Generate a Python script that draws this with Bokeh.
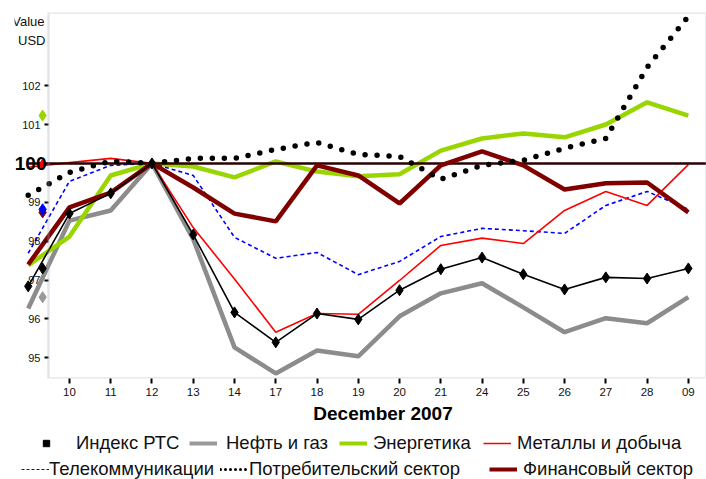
from bokeh.plotting import figure
from bokeh.layouts import column
from bokeh.models import Range1d, FixedTicker, Legend, LegendItem, BoxAnnotation, Label
from bokeh.embed import file_html
from bokeh.resources import INLINE

days = ["07", "10", "11", "12", "13", "14", "17", "18", "19", "20", "21", "24", "25", "26", "27", "28", "09"]
rts = [96.84, 98.71, 99.23, 100.0, 98.17, 96.17, 95.40, 96.14, 95.99, 96.74, 97.28, 97.58, 97.15, 96.76, 97.07, 97.04, 97.30]
oil = [96.27, 98.53, 98.79, 100.0, 98.05, 95.27, 94.60, 95.19, 95.04, 96.07, 96.66, 96.92, 96.30, 95.66, 96.02, 95.89, 96.56]
energy = [97.38, 98.12, 99.69, 100.0, 99.92, 99.64, 100.05, 99.79, 99.67, 99.72, 100.33, 100.64, 100.77, 100.67, 101.0, 101.57, 101.23]
metals = [99.90, 100.02, 100.13, 100.0, 98.35, 97.03, 95.66, 96.14, 96.12, 96.99, 97.89, 98.08, 97.94, 98.79, 99.28, 98.92, 99.97]
telecom = [97.69, 99.54, 99.95, 100.0, 99.69, 98.10, 97.56, 97.71, 97.14, 97.48, 98.12, 98.33, 98.27, 98.20, 98.92, 99.28, 98.82]
consumer = [99.18, 99.77, 100.06, 100.0, 100.13, 100.13, 100.36, 100.54, 100.23, 100.18, 99.59, 99.95, 100.08, 100.39, 100.64, 102.47, 103.78]
finance = [97.40, 98.87, 99.25, 100.0, 99.38, 98.71, 98.51, 99.95, 99.69, 98.97, 99.95, 100.31, 99.95, 99.33, 99.49, 99.51, 98.74]
base = 100
y_ticks = [95, 96, 97, 98, 99, 100, 101, 102]
x_title = "December 2007"
names = ["Индекс РТС", "Нефть и газ", "Энергетика", "Металлы и добыча",
         "Телекоммуникации", "Потребительский сектор", "Финансовый сектор"]

FONT = "Liberation Sans"
BORDER = "#a4a4b8"
GREEN = "#99d600"
DARKRED = "#800000"
GREY = "#8c8c8c"
NAN = float("nan")

xs = list(range(len(days)))
axis_x = 0.492

p = figure(width=706, height=404, output_backend="svg", toolbar_location=None,
           x_range=Range1d(-0.332, 16.44), y_range=Range1d(94.47, 103.88),
           min_border_left=14, min_border_right=0, min_border_top=12, min_border_bottom=26)
p.outline_line_color = None
p.grid.visible = False
p.background_fill_color = "white"
p.border_fill_color = "white"

# axes
p.yaxis.fixed_location = axis_x
p.yaxis.ticker = FixedTicker(ticks=y_ticks)
p.yaxis.major_label_overrides = {base: ""}
p.yaxis.axis_line_color = None
p.yaxis.major_tick_line_color = "black"
p.yaxis.major_tick_line_width = 2
p.yaxis.major_tick_out = 4
p.yaxis.major_tick_in = 0
p.yaxis.minor_tick_line_color = None
p.yaxis.major_label_text_font = FONT
p.yaxis.major_label_text_font_size = "11px"
p.yaxis.major_label_text_color = "#111111"
p.yaxis.major_label_standoff = 4

p.xaxis.ticker = FixedTicker(ticks=xs[1:])
p.xaxis.major_label_overrides = {i: days[i] for i in xs[1:]}
p.xaxis.axis_line_color = None
p.xaxis.major_tick_line_color = "black"
p.xaxis.major_tick_line_width = 2
p.xaxis.major_tick_out = 5
p.xaxis.major_tick_in = 0
p.xaxis.minor_tick_line_color = None
p.xaxis.major_label_text_font = FONT
p.xaxis.major_label_text_font_size = "11.5px"
p.xaxis.major_label_text_color = "#111111"
p.xaxis.major_label_standoff = 4

# frame border
p.add_layout(BoxAnnotation(left=axis_x, fill_alpha=0, line_color=BORDER, line_width=2.5))

# series
p.line(xs, oil, line_color=GREY, line_width=4.5)
p.line(xs, energy, line_color=GREEN, line_width=4.5)
p.line(xs, telecom, line_color="#0000ff", line_width=1.6, line_dash="4 3")
p.line(xs, metals, line_color="#ff0000", line_width=1.6)
p.line([xs[0], len(days)], [base, base], line_color="#2a0000", line_width=2.5)
p.line(xs, finance, line_color=DARKRED, line_width=4.5)
p.line(xs, rts, line_color="black", line_width=1.6)
p.scatter(xs, rts, marker="diamond", size=11, color="black")
p.line(xs, consumer, line_color="black", line_width=5.5, line_dash="0 12", line_cap="round")

# last-value markers on the value axis
mark_x = 0.35
for series, col in [(oil, "#999999"), (rts, "black"), (finance, DARKRED), (telecom, "#0000ff"),
                    (metals, "#ff0000"), (energy, GREEN)]:
    p.scatter([mark_x], [series[-1]], marker="diamond", size=11, color=col)

# axis texts
p.add_layout(Label(x=axis_x, y=base, text=str(base), x_offset=-2, text_align="right",
                   text_baseline="middle", text_font=FONT, text_font_style="bold",
                   text_font_size="19px", text_color="black"))
p.add_layout(Label(x=axis_x, y=103.65, text="Value", x_offset=-4, text_align="right",
                   text_baseline="middle", text_font=FONT, text_font_size="13px", text_color="#111111"))
p.add_layout(Label(x=axis_x, y=103.16, text="USD", x_offset=-3, text_align="right",
                   text_baseline="middle", text_font=FONT, text_font_size="13px", text_color="#111111"))

# axis title + legend figure
q = figure(width=706, height=75, output_backend="svg", toolbar_location=None,
           x_axis_location=None, y_axis_location=None,
           x_range=Range1d(0, 706), y_range=Range1d(0, 75),
           min_border_left=0, min_border_right=0, min_border_top=0, min_border_bottom=0)
q.grid.visible = False
q.outline_line_color = None
q.background_fill_color = "white"
q.border_fill_color = "white"

q.add_layout(Label(x=376, y=66, text=x_title, text_align="center", text_baseline="middle",
                   text_font=FONT, text_font_style="bold", text_font_size="19px", text_color="black"))

g_rts = q.scatter([NAN], [NAN], marker="square", size=7, color="black")
g_oil = q.line([NAN, NAN], [NAN, NAN], line_color="#999999", line_width=4)
g_en = q.line([NAN, NAN], [NAN, NAN], line_color=GREEN, line_width=4)
g_met = q.line([NAN, NAN], [NAN, NAN], line_color="#ff0000", line_width=1.5)
g_tel = q.line([NAN, NAN], [NAN, NAN], line_color="#0000ff", line_width=1.2, line_dash="3 2")
g_con = q.line([NAN, NAN], [NAN, NAN], line_color="black", line_width=3, line_dash="0 5", line_cap="round")
g_fin = q.line([NAN, NAN], [NAN, NAN], line_color=DARKRED, line_width=4)

# (label, glyph renderer, glyph left x, bottom y, label standoff)
legend_spec = [
    (names[0], g_rts, 18, 25, 16),
    (names[1], g_oil, 175, 25, 9),
    (names[2], g_en, 325, 25, 6),
    (names[3], g_met, 469, 25, 6),
    (names[4], g_tel, 7, -1, 0),
    (names[5], g_con, 206, -1, 1),
    (names[6], g_fin, 475, -1, 6),
]
for label, rend, lx, ly, so in legend_spec:
    q.add_layout(Legend(items=[LegendItem(label=label, renderers=[rend])], location=(lx, ly),
                        glyph_width=28, glyph_height=16, label_standoff=so, spacing=0,
                        padding=0, margin=0, border_line_color=None, background_fill_alpha=0,
                        label_text_font=FONT, label_text_font_size="18.5px",
                        label_text_color="#111111", label_height=16))

layout = column(p, q, spacing=0)
open("out.html", "w").write(file_html(layout, INLINE))
